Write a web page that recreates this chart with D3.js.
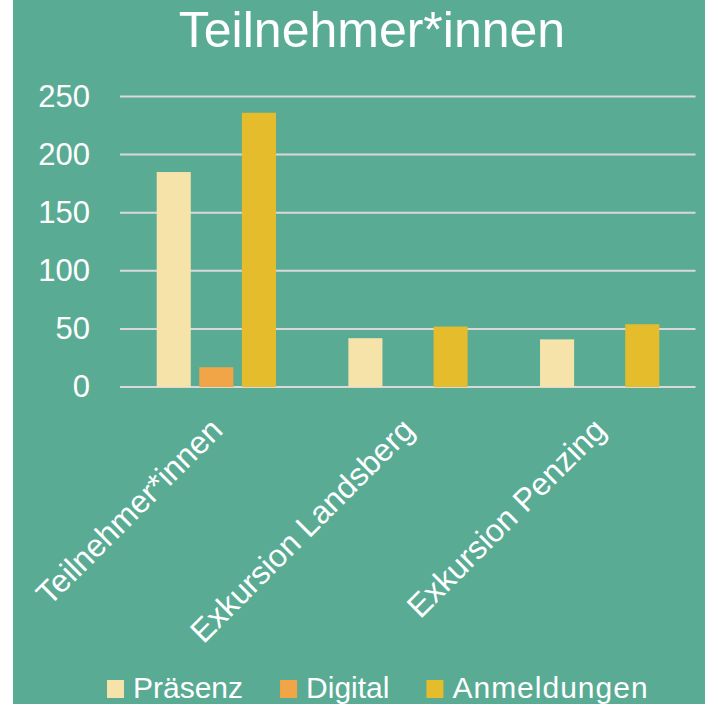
<!DOCTYPE html>
<html lang="de">
  <head>
    <meta charset="UTF-8" />
    <title>Teilnehmer*innen</title>
    <script src="https://d3js.org/d3.v7.min.js"></script>
    <style>
      body { margin: 0; background: #fff; }
      text { font-family: "Liberation Sans", Arial, sans-serif; fill: #fff; }
    </style>
  </head>
  <body>
    <div id="chart"></div>
    <script>
      // data
      var categories = ["Teilnehmer*innen", "Exkursion Landsberg", "Exkursion Penzing"];
      var seriesNames = ["Präsenz", "Digital", "Anmeldungen"];
      var praesenz = [185, 42, 41];
      var digital = [17, 0, 0];
      var anmeldungen = [236, 52, 54];
      var yTicks = [0, 50, 100, 150, 200, 250];

      var colors = ["#f5e3a9", "#f2a546", "#e5bc2b"];
      var values = [praesenz, digital, anmeldungen];

      var width = 705, height = 704;

      var svg = d3.select("#chart").append("svg")
        .attr("width", width)
        .attr("height", height);

      svg.append("rect")
        .attr("x", 13).attr("y", 0)
        .attr("width", width - 13).attr("height", height)
        .attr("fill", "#5aab94");

      // title
      svg.append("text")
        .attr("x", 372).attr("y", 47)
        .attr("text-anchor", "middle")
        .style("font-size", "50px")
        .text("Teilnehmer*innen");

      var x = d3.scaleBand().domain(categories).range([120.5, 695.5]);
      var xs = d3.scaleBand().domain(seriesNames)
        .range([0, x.bandwidth()])
        .paddingInner(0.2).paddingOuter(0.85);
      var y = d3.scaleLinear().domain([0, 250]).range([387, 96.5]);

      // gridlines
      svg.append("g").selectAll("line")
        .data(yTicks).join("line")
        .attr("x1", 120).attr("x2", 695.5)
        .attr("y1", d => y(d)).attr("y2", d => y(d))
        .attr("stroke", "#d9d9d9")
        .attr("stroke-width", 2);

      // tick labels
      svg.append("g").selectAll("text")
        .data(yTicks).join("text")
        .attr("x", 90).attr("y", d => y(d))
        .attr("dy", "0.33em")
        .attr("text-anchor", "end")
        .style("font-size", "31px")
        .text(d => d);

      // bars
      var rows = [];
      seriesNames.forEach(function (s, i) {
        categories.forEach(function (c, j) {
          if (values[i][j] > 0) rows.push({ cat: c, series: s, v: values[i][j], color: colors[i] });
        });
      });

      svg.append("g").selectAll("rect")
        .data(rows).join("rect")
        .attr("x", d => x(d.cat) + xs(d.series))
        .attr("width", xs.bandwidth())
        .attr("y", d => y(d.v))
        .attr("height", d => y(0) - y(d.v))
        .attr("fill", d => d.color);

      // category labels
      svg.append("g").selectAll("text")
        .data(categories).join("text")
        .attr("transform", d => "translate(" + (x(d) + x.bandwidth() / 2 + 8) + ",432) rotate(-45)")
        .attr("text-anchor", "end")
        .style("font-size", "32px")
        .text(d => d);

      // legend
      var legend = svg.append("g");
      var lx = 107;
      seriesNames.forEach(function (s, i) {
        legend.append("rect")
          .attr("x", lx).attr("y", 680)
          .attr("width", 17).attr("height", 18)
          .attr("fill", colors[i]);
        var t = legend.append("text")
          .attr("x", lx + 26).attr("y", 698)
          .style("font-size", "30px")
          .style("letter-spacing", i == 2 ? "1px" : "0px")
          .text(s);
        lx += 26 + t.node().getComputedTextLength() + 37;
      });
    </script>
  </body>
</html>
